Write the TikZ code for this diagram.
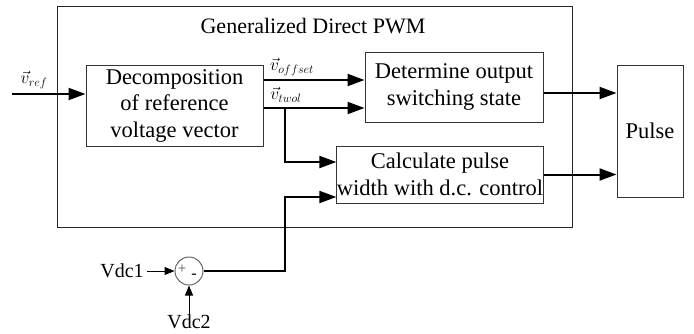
\documentclass[tikz,border=0pt]{standalone}
\usepackage{fontspec}
\setmainfont{Liberation Serif}
\usetikzlibrary{arrows.meta,calc}
\begin{document}
\begin{tikzpicture}[x=1pt,y=-1pt,
  blk/.style={draw=black!80,line width=1pt,inner sep=0pt,align=center,font=\fontsize{22.5}{26.5}\selectfont},
  arr/.style={line width=2pt,-{Triangle[length=17pt,width=12pt]}},
  thinarr/.style={line width=1pt,-{Triangle[length=10pt,width=8pt]}},
  lbl/.style={inner sep=0pt,font=\fontsize{18}{20}\selectfont}
]
\useasboundingbox (0,0) rectangle (694,333);
% outer frame
\node[draw=black!85,line width=1pt,minimum width=515pt,minimum height=221pt,inner sep=0pt] (gdp) at (314.5,116.5) {};
\node[inner sep=0pt,font=\fontsize{22}{26}\selectfont] (title) at (313,26) {Generalized Direct PWM};
% blocks
\node[blk,minimum width=177pt,minimum height=81pt] (decomp) at (174.5,105.5) {Decomposition\\of reference\\voltage vector};
\node[blk,minimum width=178pt,minimum height=70pt] (det) at (454,87) {Determine output\\switching state};
\node[blk,minimum width=206pt,minimum height=57pt] (calc) at (440,174.5) {Calculate pulse\\width with d.c. control};
\node[blk,minimum width=66pt,minimum height=132pt] (pulse) at (650,131) {Pulse};
\node[draw=black!60,line width=1pt,circle,minimum size=28pt,inner sep=0pt] (sum) at (189,271) {};
\node[inner sep=0pt,font=\fontsize{15}{15}\selectfont,text=black!70] (plus) at (182,269) {+};
\node[inner sep=0pt,font=\fontsize{16}{16}\selectfont] (minus) at (194,276) {-};
\node[inner sep=0pt,font=\fontsize{20}{22}\selectfont] (vdc1) at (122,271) {Vdc1};
\node[inner sep=0pt,font=\fontsize{20}{22}\selectfont] (vdc2) at (189,322) {Vdc2};
% helper coordinates
\coordinate (in) at (12,94);
\coordinate (yo) at (0,80);
\coordinate (yt) at (0,108);
\coordinate (br) at (285,108);
\coordinate (yc1) at (0,162);
\coordinate (yc2) at (0,197);
\coordinate (yp1) at (0,93);
% labels
\node[lbl] (lref) at (34,80) {$\vec{v}_{\scriptstyle ref}$};
\node[lbl] (loff) at (292,67) {$\vec{v}_{\scriptstyle offset}$};
\node[lbl] (ltw) at (286,95) {$\vec{v}_{\scriptstyle twol}$};
% connectors
\draw[arr] (in) -- (in -| decomp.west);
\draw[arr] (decomp.east |- yo) -- (det.west |- yo);
\draw[arr] (decomp.east |- yt) -- (det.west |- yt);
\draw[arr] (br) |- (calc.west |- yc1);
\draw[arr] (sum.east) -- (sum.east -| br) |- (calc.west |- yc2);
\draw[arr] (det.east |- yp1) -- (pulse.west |- yp1);
\draw[arr] (calc.east) -- (calc.east -| pulse.west);
\draw[thinarr] (vdc1.east) ++(3,0) -- (sum.west);
\draw[thinarr] (vdc2.north) -- (sum.south);
\end{tikzpicture}
\end{document}
